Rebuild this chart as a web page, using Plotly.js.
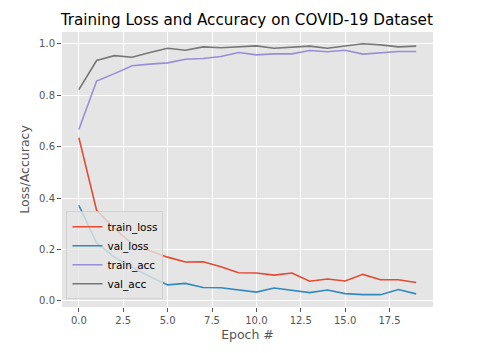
<!DOCTYPE html>
<html>
<head>
<meta charset="utf-8">
<script src="https://cdn.plot.ly/plotly-3.0.1.min.js"></script>
<style>html,body{margin:0;padding:0;background:#fff;}#chart{width:497px;height:353px;}</style>
</head>
<body>
<div id="chart"></div>
<script>
const epochs = [0,1,2,3,4,5,6,7,8,9,10,11,12,13,14,15,16,17,18,19];
const trainLoss = [0.635,0.352,0.282,0.222,0.195,0.170,0.151,0.152,0.133,0.109,0.108,0.100,0.108,0.076,0.085,0.077,0.103,0.082,0.082,0.071];
const valLoss = [0.372,0.225,0.170,0.130,0.095,0.062,0.068,0.052,0.051,0.042,0.034,0.050,0.040,0.032,0.042,0.028,0.024,0.024,0.044,0.027];
const trainAcc = [0.667,0.855,0.884,0.915,0.921,0.926,0.940,0.943,0.951,0.966,0.957,0.961,0.961,0.974,0.969,0.975,0.960,0.966,0.970,0.970];
const valAcc = [0.822,0.935,0.954,0.948,0.966,0.983,0.975,0.988,0.985,0.988,0.992,0.983,0.987,0.991,0.983,0.992,1.000,0.996,0.988,0.991];
const seriesNames = ["train_loss","val_loss","train_acc","val_acc"];
const seriesColors = ["#E24A33","#348ABD","#988ED5","#777777"];
const xTicks = [0,2.5,5,7.5,10,12.5,15,17.5];
const yTicks = [0,0.2,0.4,0.6,0.8,1.0];

const allY = [trainLoss, valLoss, trainAcc, valAcc];
const traces = allY.map((ys, i) => ({
  x: epochs, y: ys, type: "scatter", mode: "lines", name: seriesNames[i],
  line: {color: seriesColors[i], width: 1.6}
}));

const font = "DejaVu Sans, sans-serif";
const layout = {
  width: 497, height: 353,
  margin: {l: 62, r: 64, t: 32, b: 46},
  paper_bgcolor: "#ffffff", plot_bgcolor: "#E5E5E5",
  font: {family: font, color: "#555555", size: 10},
  title: {text: "Training Loss and Accuracy on COVID-19 Dataset", font: {family: font, size: 15.2, color: "#000000"},
          x: 0.498, xanchor: "center", xref: "paper", y: 0.944, yanchor: "middle", yref: "container"},
  xaxis: {range: [-0.95, 19.95], tickvals: xTicks, tickformat: ".1f", ticks: "outside", ticklen: 4, tickcolor: "#555555",
          tickwidth: 1, showgrid: true, gridcolor: "#ffffff", gridwidth: 1, zeroline: false, showline: false,
          tickfont: {size: 10, color: "#555555"},
          title: {text: "Epoch #", font: {size: 12.5, color: "#555555"}, standoff: 5}},
  yaxis: {range: [-0.024, 1.046], tickvals: yTicks, tickformat: ".1f", ticks: "outside", ticklen: 4, tickcolor: "#555555",
          tickwidth: 1, showgrid: true, gridcolor: "#ffffff", gridwidth: 1, zeroline: false, showline: false,
          tickfont: {size: 10, color: "#555555"},
          title: {text: "Loss/Accuracy", font: {size: 12.5, color: "#555555"}, standoff: 6}},
  showlegend: true,
  legend: {x: 0.012, y: 0.028, xanchor: "left", yanchor: "bottom", bgcolor: "rgba(229,229,229,0.8)",
           bordercolor: "rgba(204,204,204,0.8)", borderwidth: 1, font: {size: 10.5, color: "#000000"},
           itemwidth: 30, tracegroupgap: 0}
};
Plotly.newPlot("chart", traces, layout, {displayModeBar: false, staticPlot: true});
</script>
</body>
</html>
